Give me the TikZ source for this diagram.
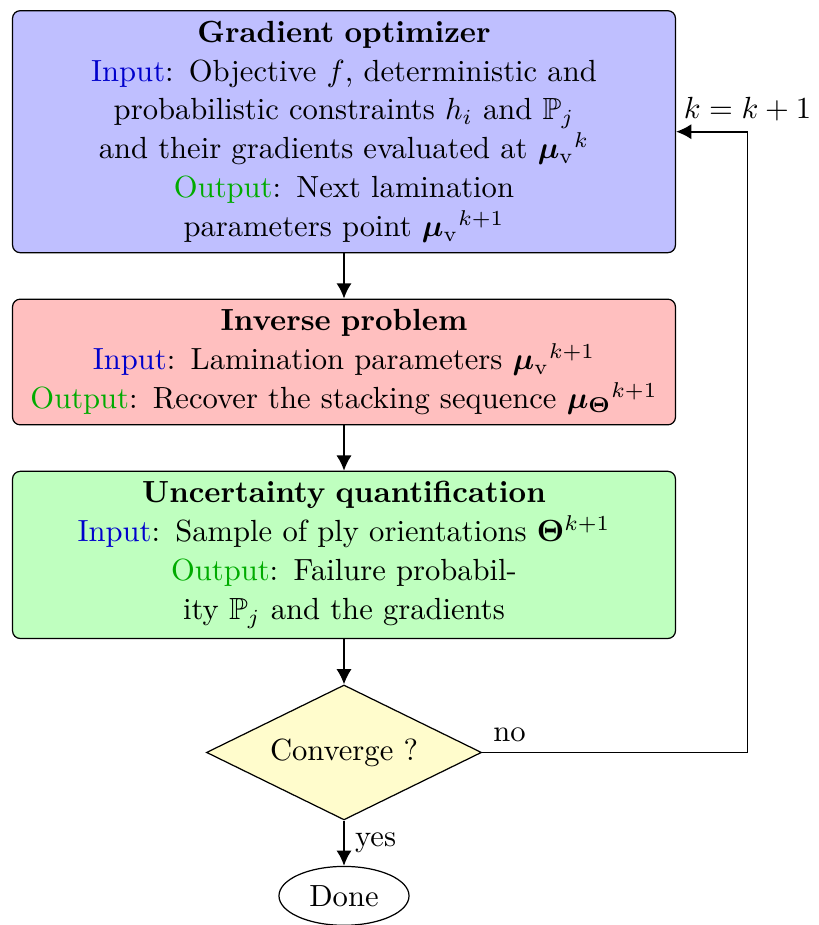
\documentclass[tikz,border=0pt]{standalone}
\usepackage{amssymb,amsmath}
\usepackage{bm}
\usepackage{tikz}
\usetikzlibrary{positioning}
\usetikzlibrary{shapes.geometric}
\usetikzlibrary{arrows.meta}

\definecolor{inblue}{rgb}{0,0,0.8}
\definecolor{outgreen}{rgb}{0,0.67,0}
\newcommand{\inp}{\textcolor{inblue}{Input}}
\newcommand{\outp}{\textcolor{outgreen}{Output}}

\begin{document}
\begin{tikzpicture}[
  node distance=0.52cm,
  block/.style={draw,rectangle,rounded corners=2.5pt,text width=7.38cm,align=center,font=\fontsize{10}{12.7}\selectfont},
  decision/.style={draw,diamond,aspect=2,inner sep=0pt,fill=yellow!20,minimum width=89.9pt,minimum height=44.1pt},
  stopnode/.style={draw,ellipse,minimum width=42.5pt,minimum height=18.6pt},
  myarrow/.style={semithick,-{Latex[length=5pt,width=5pt]}}
]

  \node[block, fill=blue!25] (grad) {\textbf{Gradient optimizer}\\
    \inp: Objective \(f\), deterministic and probabilistic constraints \(h_i\) and \(\mathbb{P}_j\) and their gradients evaluated at \({\bm{\mu}_{\mathrm{v}}}^{k}\)\\
    \outp: Next lamination parameters point \({\bm{\mu}_{\mathrm{v}}}^{k+1}\)};
  \node[block, fill=red!25, below=of grad] (inv) {\textbf{Inverse problem}\\
    \inp: Lamination parameters \({\bm{\mu}_{\mathrm{v}}}^{k+1}\)\\
    \outp: Recover the stacking sequence \({\bm{\mu}_{\bm{\Theta}}}^{k+1}\)};
  \node[block, fill=green!25, below=of inv] (uq) {\textbf{Uncertainty quantification}\\
    \inp: Sample of ply orientations \(\bm{\Theta}^{k+1}\)\\
    \outp: Failure probability \(\mathbb{P}_j\) and the gradients};
  \node[decision, below=of uq] (conv) {Converge ?};
  \node[stopnode, below=of conv] (done) {Done};
  \coordinate[right=0.82cm of grad.east] (loop);
  \path (grad) edge[myarrow] (inv)
        (inv) edge[myarrow] (uq)
        (uq) edge[myarrow] (conv)
        (conv) edge[myarrow] node[right] {yes} (done)
  ;
  \draw[myarrow] (conv.east) node[above right] {no} -| (loop) node[above] {\(k=k+1\)} -- (grad.east);

  \pgfresetboundingbox
  \path[use as bounding box] ([shift={(-3.9pt,3.3pt)}]grad.north west) rectangle ++(267.6pt,-302.3pt);
\end{tikzpicture}
\end{document}
